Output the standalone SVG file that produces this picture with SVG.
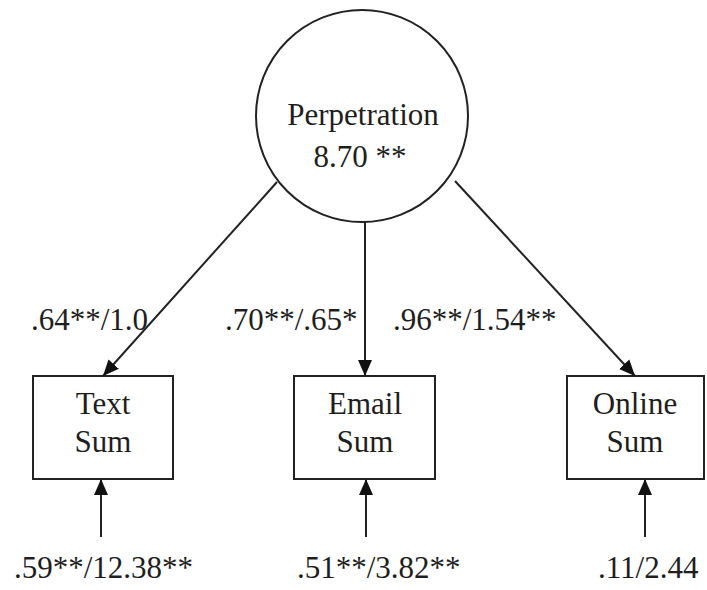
<svg xmlns="http://www.w3.org/2000/svg" width="707" height="590" viewBox="0 0 707 590">
  <style>
    .shape { fill: #ffffff; stroke: #222222; stroke-width: 2; }
    .edge { fill: none; stroke: #222222; stroke-width: 2; }
    text { font-family: "Liberation Serif", "DejaVu Serif", serif; font-size: 31px; fill: #1e1e1e; }
    .mid { text-anchor: middle; }
  </style>
  <defs>
    <marker id="arrow" markerUnits="userSpaceOnUse" markerWidth="16" markerHeight="16" viewBox="0 0 16 16" refX="16" refY="8" orient="auto">
      <path d="M0,1 L16,8 L0,15 Z" fill="#111111"/>
    </marker>
  </defs>
  <rect width="707" height="590" fill="#ffffff"/>

  <g font-family="Liberation Serif, DejaVu Serif, serif">
    <!-- latent factor -->
    <g id="perpetration">
      <circle class="shape" cx="362" cy="116" r="106"/>
      <text class="mid" x="363" y="125">Perpetration</text>
      <text class="mid" x="360" y="167">8.70 **</text>
    </g>

    <!-- observed indicators -->
    <g id="text-sum">
      <rect class="shape" x="33" y="376" width="140" height="103"/>
      <text class="mid" x="103" y="414">Text</text>
      <text class="mid" x="103" y="452">Sum</text>
    </g>
    <g id="email-sum">
      <rect class="shape" x="294" y="376" width="141" height="103"/>
      <text class="mid" x="365" y="414">Email</text>
      <text class="mid" x="365" y="452">Sum</text>
    </g>
    <g id="online-sum">
      <rect class="shape" x="567" y="376" width="137" height="103"/>
      <text class="mid" x="635" y="414">Online</text>
      <text class="mid" x="635" y="452">Sum</text>
    </g>

    <!-- loadings and error terms -->
    <g id="connectors">
      <line class="edge" x1="277" y1="182" x2="103" y2="376" marker-end="url(#arrow)"/>
      <line class="edge" x1="365" y1="222" x2="365" y2="376" marker-end="url(#arrow)"/>
      <line class="edge" x1="455" y1="181" x2="635" y2="376" marker-end="url(#arrow)"/>
      <line class="edge" x1="101" y1="537" x2="101" y2="479" marker-end="url(#arrow)"/>
      <line class="edge" x1="366" y1="537" x2="366" y2="479" marker-end="url(#arrow)"/>
      <line class="edge" x1="645" y1="537" x2="645" y2="479" marker-end="url(#arrow)"/>
    </g>

    <g id="loading-labels">
      <text x="31" y="330">.64**/1.0</text>
      <text x="225" y="330">.70**/.65*</text>
      <text x="393" y="330">.96**/1.54**</text>
    </g>
    <g id="error-labels">
      <text x="14" y="578">.59**/12.38**</text>
      <text x="297" y="578">.51**/3.82**</text>
      <text x="598" y="578">.11/2.44</text>
    </g>
  </g>
</svg>
